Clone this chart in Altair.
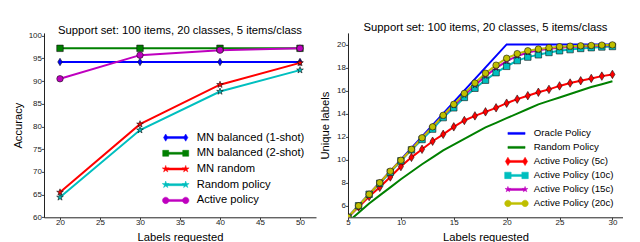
import math
import altair as alt
import pandas as pd

# ---------------- data: left panel ----------------
left_x = [20, 30, 40, 50]
left_series = ["MN balanced (1-shot)", "MN balanced (2-shot)", "MN random",
               "Random policy", "Active policy"]
mn_1shot = [94.2, 94.2, 94.2, 94.2]
mn_2shot = [97.2, 97.2, 97.2, 97.2]
mn_random = [65.5, 80.5, 89.2, 94.0]
random_policy = [64.4, 79.2, 87.7, 92.4]
active_policy = [90.5, 95.7, 96.8, 97.2]
left_values = [mn_1shot, mn_2shot, mn_random, random_policy, active_policy]

# ---------------- data: right panel ----------------
right_series = ["Oracle Policy", "Random Policy", "Active Policy (5c)",
                "Active Policy (10c)", "Active Policy (15c)", "Active Policy (20c)"]
right_x = list(range(5, 31))
oracle_x = [5, 20, 30]
oracle = [5, 20, 20]
random_right = [4.6, 5.4, 6.2, 6.9, 7.6, 8.3, 8.95, 9.6, 10.2, 10.8, 11.3, 11.8, 12.3,
                12.8, 13.2, 13.6, 14.0, 14.4, 14.8, 15.1, 15.4, 15.7, 16.0, 16.3, 16.55, 16.8]
active_5c = [5.0, 5.9, 6.8, 7.6, 8.5, 9.4, 10.2, 10.9, 11.6, 12.2, 12.85, 13.4, 13.8,
             14.15, 14.5, 14.9, 15.25, 15.55, 15.85, 16.1, 16.4, 16.65, 16.85, 17.05, 17.25, 17.4]
active_10c = [5.0, 6.0, 7.0, 7.95, 8.9, 9.9, 10.85, 11.75, 12.65, 13.65, 14.5, 15.4, 16.2,
              16.9, 17.55, 18.1, 18.6, 18.9, 19.1, 19.3, 19.45, 19.55, 19.65, 19.72, 19.78, 19.82]
active_15c = [5.0, 6.0, 7.0, 8.0, 9.0, 9.95, 10.9, 11.9, 12.85, 13.8, 14.7, 15.6, 16.45,
              17.25, 17.95, 18.55, 19.0, 19.3, 19.5, 19.62, 19.72, 19.78, 19.83, 19.86, 19.89, 19.92]
active_20c = [5.0, 6.0, 7.0, 8.0, 9.0, 9.95, 10.9, 11.9, 12.85, 13.85, 14.8, 15.75, 16.65,
              17.5, 18.2, 18.8, 19.2, 19.45, 19.6, 19.72, 19.8, 19.85, 19.88, 19.91, 19.94, 19.96]

# ---------------- styles ----------------
FONT = "Liberation Sans"
BLUE, GREEN, RED, CYAN, MAGENTA, YELLOW = "#0000ff", "#008000", "#ff0000", "#00bfbf", "#bf00bf", "#bfbf00"
left_colors = [BLUE, GREEN, RED, CYAN, MAGENTA]
left_markers = ["thin_diamond", "square", "star", "star", "circle"]
left_msize = [56, 42, 49, 49, 42]
right_colors = [BLUE, GREEN, RED, CYAN, MAGENTA, YELLOW]
right_markers = [None, None, "thin_diamond", "square", "star", "circle"]
right_msize = [0, 0, 72, 42, 36, 42]


def f(v):
    return f"{v:.3f}"


def marker_path(kind, cx, h):
    if kind == "thin_diamond":
        w = 0.6 * h
        return f"M{f(cx)},{f(-h)}L{f(cx + w)},0L{f(cx)},{f(h)}L{f(cx - w)},0Z"
    if kind == "square":
        return f"M{f(cx - h)},{f(-h)}L{f(cx + h)},{f(-h)}L{f(cx + h)},{f(h)}L{f(cx - h)},{f(h)}Z"
    if kind == "circle":
        return (f"M{f(cx + h)},0A{f(h)},{f(h)} 0 1,1 {f(cx - h)},0"
                f"A{f(h)},{f(h)} 0 1,1 {f(cx + h)},0Z")
    if kind == "star":
        pts = []
        for k in range(10):
            r = h if k % 2 == 0 else h * 0.382
            a = math.radians(-90 + 36 * k)
            pts.append((cx + r * math.cos(a), r * math.sin(a)))
        return "M" + "L".join(f"{f(x)},{f(y)}" for x, y in pts) + "Z"
    return ""


def legend_path(kind, half_len, thick, mh):
    p = f"M{f(-half_len)},{f(-thick)}L{f(half_len)},{f(-thick)}L{f(half_len)},{f(thick)}L{f(-half_len)},{f(thick)}Z"
    if kind:
        p += marker_path(kind, -half_len, mh) + marker_path(kind, half_len, mh)
    return p


def data_shape(kind):
    if kind in ("square", "circle"):
        return kind
    return marker_path(kind, 0, 1)


def axis(values, title, title_pad, label_pad):
    return alt.Axis(values=values, title=title, grid=False, tickSize=2.5, tickColor="#444",
                    tickWidth=1, domainColor="#222", domainWidth=1, labelFont=FONT,
                    labelFontSize=8, labelColor="#222", labelPadding=label_pad, labelFlush=False,
                    titleFont=FONT, titleFontSize=11.2, titleFontWeight="normal",
                    titleColor="#000", titlePadding=title_pad)


def panel(df, series, colors, markers, msize, xdom, ydom, xvals, yvals, xtitle_pad,
          ytitle_pad, ytitle, leg_paths, leg_x, leg_y, leg_font, leg_offset, leg_rowpad,
          width, height, title_offset, title_dy):
    xenc = alt.X("x:Q", scale=alt.Scale(domain=xdom, nice=False, zero=False),
                 axis=axis(xvals, "Labels requested", xtitle_pad, -1))
    yenc = alt.Y("y:Q", scale=alt.Scale(domain=ydom, nice=False, zero=False),
                 axis=axis(yvals, ytitle, ytitle_pad, 0))
    cscale = alt.Scale(domain=series, range=colors)
    base = alt.Chart(df)
    leg = dict(orient="none", legendX=leg_x, legendY=leg_y, title=None, padding=0,
               labelFont=FONT, labelFontSize=leg_font, labelColor="#000",
               labelOffset=leg_offset, rowPadding=leg_rowpad, symbolSize=144,
               symbolStrokeWidth=0.5, labelLimit=300, symbolOpacity=1)
    # legend-only layer first (no data drawn)
    layers = [
        base.transform_filter("datum.x < -1000")
        .mark_point(filled=True, stroke="#111", strokeWidth=0.5, opacity=1)
        .encode(x=xenc, y=yenc,
                color=alt.Color("series:N", scale=cscale, legend=alt.Legend(**leg)),
                shape=alt.Shape("series:N", scale=alt.Scale(domain=series, range=leg_paths),
                                legend=alt.Legend(**leg)))]
    layers.append(base.mark_line(strokeWidth=2, clip=True).encode(
        x=xenc, y=yenc, color=alt.Color("series:N", scale=cscale, legend=None),
        order="x:Q"))
    for name, kind, sz in zip(series, markers, msize):
        if not kind:
            continue
        layers.append(
            base.transform_filter(alt.datum.series == name)
            .mark_point(shape=data_shape(kind), filled=True, size=sz, stroke="#111",
                        strokeWidth=0.6, opacity=1, clip=True)
            .encode(x=xenc, y=yenc, color=alt.Color("series:N", scale=cscale, legend=None)))
    tp = dict(font=FONT, fontSize=11.3, fontWeight="normal", color="#000",
              anchor="middle", offset=title_offset, frame="group")
    if title_dy:
        tp["dy"] = title_dy
    return alt.layer(*layers).properties(
        width=width, height=height,
        title=alt.TitleParams("Support set: 100 items, 20 classes, 5 items/class", **tp))


left_df = pd.DataFrame([{"series": s, "x": x, "y": y}
                        for s, vals in zip(left_series, left_values)
                        for x, y in zip(left_x, vals)])
right_rows = [{"series": right_series[0], "x": x, "y": y} for x, y in zip(oracle_x, oracle)]
for s, vals in zip(right_series[1:], [random_right, active_5c, active_10c, active_15c, active_20c]):
    right_rows += [{"series": s, "x": x, "y": y} for x, y in zip(right_x, vals)]
right_df = pd.DataFrame(right_rows)

# legend symbols: unit = 6 px
left_leg_paths = [legend_path("thin_diamond", 1.667, 0.167, 0.6),
                  legend_path("square", 1.667, 0.167, 0.5),
                  legend_path("star", 1.667, 0.167, 0.6),
                  legend_path("star", 1.667, 0.167, 0.6),
                  legend_path("circle", 1.667, 0.167, 0.54)]
right_leg_paths = [legend_path(k, 1.43, 0.167, m) for k, m in
                   zip(right_markers, [0, 0, 0.7, 0.54, 0.5, 0.54])]

left = panel(left_df, left_series, left_colors, left_markers, left_msize,
             [18, 52], [60, 100.6], [20, 25, 30, 35, 40, 45, 50], [60, 65, 70, 75, 80, 85, 90, 95, 100],
             4.4, 4.3, "Accuracy", left_leg_paths, 125.2, 98.2, 11.2, 14.5, 3.7, 272, 184.4, 0.4, 5)
right = panel(right_df, right_series, right_colors, right_markers, right_msize,
              [5, 31], [5, 21], [5, 10, 15, 20, 25, 30], [6, 8, 10, 12, 14, 16, 18, 20],
              4.4, 5.8, "Unique labels", right_leg_paths, 162, 94, 9.7, 10.8, 2, 275, 184.4, 0.4, 0.5)

chart = alt.hconcat(left, right, spacing=3).resolve_scale(color="independent", shape="independent") \
    .configure_view(stroke=None) \
    .properties(padding={"left": 4, "top": 12.9, "right": 0, "bottom": 0})

chart.save("out.html", embed_options={"renderer": "svg", "actions": False})
